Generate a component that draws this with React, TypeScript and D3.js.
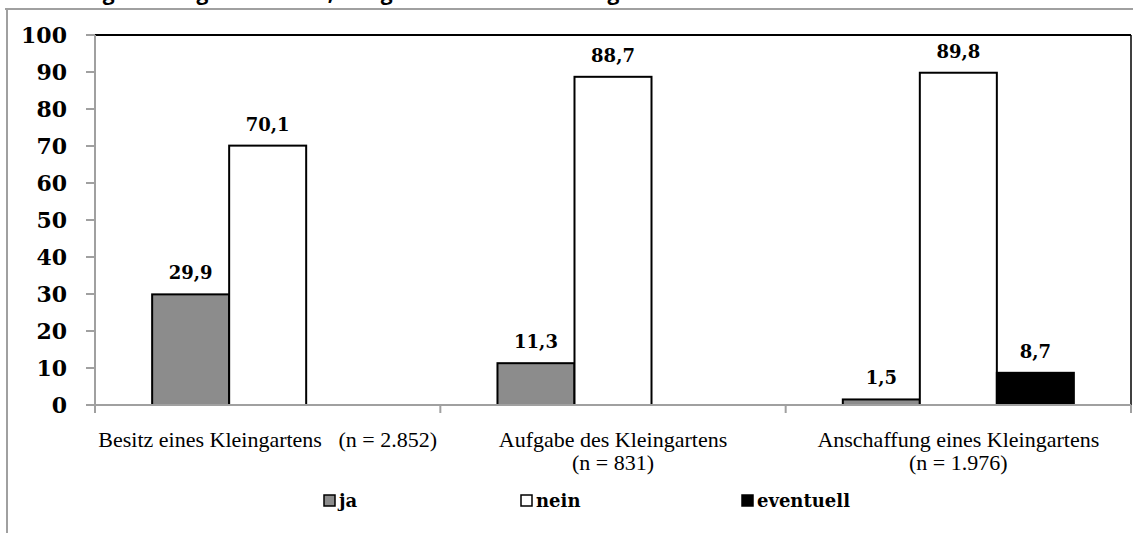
import React from "react";
import * as d3 from "d3";

const categories = ["Besitz", "Aufgabe", "Anschaffung"];
const categoryLines: string[][] = [
  ["Besitz eines Kleingartens   (n = 2.852)"],
  ["Aufgabe des Kleingartens", "(n = 831)"],
  ["Anschaffung eines Kleingartens", "(n = 1.976)"],
];
const seriesNames = ["ja", "nein", "eventuell"];
const jaValues: (number | null)[] = [29.9, 11.3, 1.5];
const neinValues: (number | null)[] = [70.1, 88.7, 89.8];
const eventuellValues: (number | null)[] = [null, null, 8.7];
const seriesColors = ["#8c8c8c", "#ffffff", "#000000"];
const yTicks = [0, 10, 20, 30, 40, 50, 60, 70, 80, 90, 100];
const titleText = "Abbildung 5: Kleingartenbesitz, -aufgabe und -anschaffung in Prozent";

const W = 1133;
const H = 533;
const left = 95;
const right = 1131;
const top = 35;
const bottom = 405;
const axisGray = "#a0a0a0";
const serif = "'Liberation Serif', 'DejaVu Serif', serif";
const boldSerif = "'DejaVu Serif', serif";

export default function App() {
  const values = [jaValues, neinValues, eventuellValues];
  const x = d3.scaleBand<string>().domain(categories).range([left, right]).paddingInner(0).paddingOuter(0);
  const xi = d3
    .scaleBand<string>()
    .domain(seriesNames)
    .range([0, x.bandwidth()])
    .paddingInner(0)
    .paddingOuter(0.742);
  const y = d3.scaleLinear().domain([0, 100]).range([bottom, top]);

  const fmt = (v: number) => d3.format(".1f")(v).replace(".", ",");

  const boundaries = [...categories.map((c) => x(c) as number), right];

  return (
    <div style={{ position: "fixed", left: 0, top: 0 }}>
      <svg width={W} height={H} style={{ display: "block", background: "#fff" }}>
        {/* cut-off title (cropped at the top edge, as in the reference) */}
        <text x={8} y={0} fontFamily="'Open Sans', sans-serif" fontWeight={700} fontSize={21} fill="#000">
          {titleText}
        </text>
        {/* outer frame */}
        <line x1={5} x2={W} y1={9} y2={9} stroke={axisGray} strokeWidth={2} />
        <line x1={7} x2={7} y1={9} y2={H} stroke={axisGray} strokeWidth={2} />

        {/* plot frame top/right */}
        <line x1={left} x2={right} y1={top} y2={top} stroke="#000" strokeWidth={2} />
        <line x1={right} x2={right} y1={top} y2={bottom} stroke="#000" strokeWidth={1.5} />

        {/* bars */}
        {seriesNames.map((s, si) =>
          categories.map((c, ci) => {
            const v = values[si][ci];
            if (v === null) return null;
            const bx = (x(c) as number) + (xi(s) as number);
            return (
              <rect
                key={s + c}
                x={bx}
                y={y(v)}
                width={xi.bandwidth()}
                height={bottom - y(v)}
                fill={seriesColors[si]}
                stroke="#000"
                strokeWidth={2}
              />
            );
          })
        )}

        {/* value labels */}
        {seriesNames.map((s, si) =>
          categories.map((c, ci) => {
            const v = values[si][ci];
            if (v === null) return null;
            const cx = (x(c) as number) + (xi(s) as number) + xi.bandwidth() / 2;
            return (
              <text
                key={"l" + s + c}
                x={cx}
                y={y(v) - 15}
                textAnchor="middle"
                fontFamily={boldSerif}
                fontWeight={700}
                fontSize={18}
                fill="#000"
              >
                {fmt(v)}
              </text>
            );
          })
        )}

        {/* y axis */}
        <line x1={left} x2={left} y1={top} y2={bottom + 7} stroke={axisGray} strokeWidth={2} />
        {yTicks.map((t) => (
          <g key={"t" + t}>
            <line x1={left - 9} x2={left} y1={y(t)} y2={y(t)} stroke={axisGray} strokeWidth={2} />
            <text
              x={67}
              y={y(t)}
              dy="0.36em"
              textAnchor="end"
              fontFamily={boldSerif}
              fontWeight={700}
              fontSize={22}
              fill="#000"
            >
              {t}
            </text>
          </g>
        ))}

        {/* x axis */}
        <line x1={left - 9} x2={right} y1={bottom} y2={bottom} stroke={axisGray} strokeWidth={2} />
        {boundaries.map((b, i) => (
          <line key={"b" + i} x1={b} x2={b} y1={bottom} y2={bottom + 8} stroke={axisGray} strokeWidth={2} />
        ))}
        {categories.map((c, ci) => (
          <text
            key={"c" + c}
            x={(x(c) as number) + x.bandwidth() / 2}
            y={447}
            textAnchor="middle"
            fontFamily={serif}
            fontSize={22}
            fill="#000"
            style={{ whiteSpace: "pre" }}
          >
            {categoryLines[ci].map((ln, li) => (
              <tspan key={li} x={(x(c) as number) + x.bandwidth() / 2} dy={li === 0 ? 0 : 23}>
                {ln}
              </tspan>
            ))}
          </text>
        ))}

        {/* legend */}
        {seriesNames.map((s, si) => {
          const lx = [324, 521, 742][si];
          return (
            <g key={"lg" + s}>
              <rect x={lx} y={495} width={11} height={11} fill={seriesColors[si]} stroke="#000" strokeWidth={1.5} />
              <text
                x={lx + 15}
                y={507}
                fontFamily={boldSerif}
                fontWeight={700}
                fontSize={18}
                fill="#000"
              >
                {s}
              </text>
            </g>
          );
        })}
      </svg>
    </div>
  );
}
